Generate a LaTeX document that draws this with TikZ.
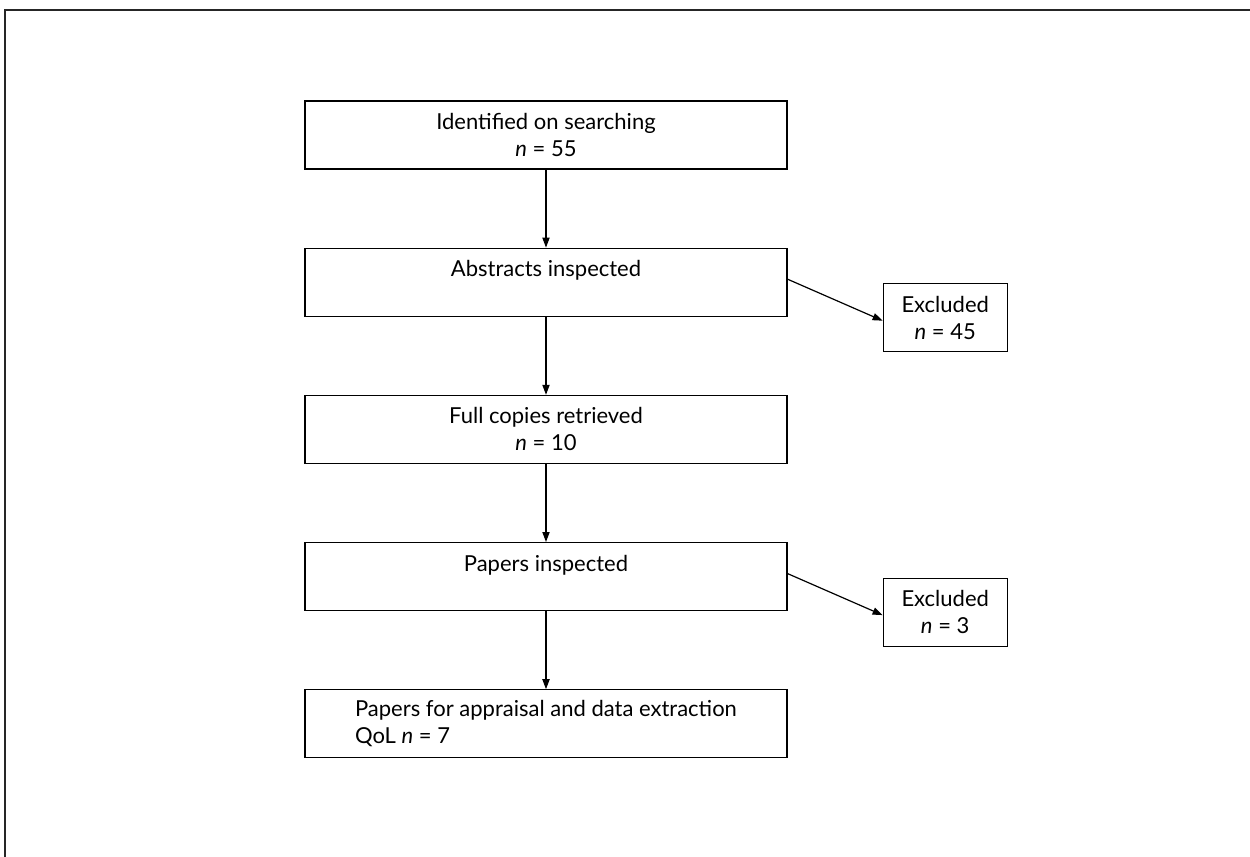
\documentclass[tikz,border=0pt]{standalone}
\usepackage{fontspec}
\setmainfont{Lato}
\usepackage{tikz}
\usetikzlibrary{arrows.meta,positioning}
\tikzset{
  stagebox/.style={
    draw=black, line width=0.6pt, fill=white,
    align=center, font=\fontsize{11}{13.5}\selectfont,
    minimum width=241pt, minimum height=34pt, inner sep=2pt},
  excludebox/.style={
    stagebox, minimum width=62pt},
  stagearrow/.style={
    -{Triangle[length=5pt,width=3.6pt]}, line width=0.6pt, color=black},
  frameline/.style={line width=1pt, color=black!85},
}

\begin{document}
\begin{tikzpicture}[x=0.5pt, y=-0.5pt, node distance=39pt]
  \useasboundingbox (0,0) rectangle (1250,857);
  \draw[frameline] (5,857) -- (5,10) -- (1250,10);

  \node[stagebox] (ident) at (546,135) {Identified on searching\\\textit{n} = 55};
  \node[stagebox, below=of ident] (abst) {Abstracts inspected\\\phantom{\textit{n}}};
  \node[stagebox, below=of abst] (full) {Full copies retrieved\\\textit{n} = 10};
  \node[stagebox, below=of full] (insp) {Papers inspected\\\phantom{\textit{n}}};
  \node[stagebox, below=of insp, align=left] (final)
    {Papers for appraisal and data extraction\\QoL \textit{n} = 7};

  \node[excludebox, right=47.5pt of abst, yshift=-17.75pt] (exclA) {Excluded\\\textit{n} = 45};
  \node[excludebox, right=47.5pt of insp, yshift=-17.75pt] (exclB) {Excluded\\\textit{n} = 3};

  \draw[stagearrow] (ident) -- (abst);
  \draw[stagearrow] (abst) -- (full);
  \draw[stagearrow] (full) -- (insp);
  \draw[stagearrow] (insp) -- (final);
  \draw[stagearrow] ([yshift=1.5pt]abst.east) -- ([yshift=-1.5pt]exclA.west);
  \draw[stagearrow] ([yshift=1.5pt]insp.east) -- ([yshift=-1.5pt]exclB.west);
\end{tikzpicture}
\end{document}
